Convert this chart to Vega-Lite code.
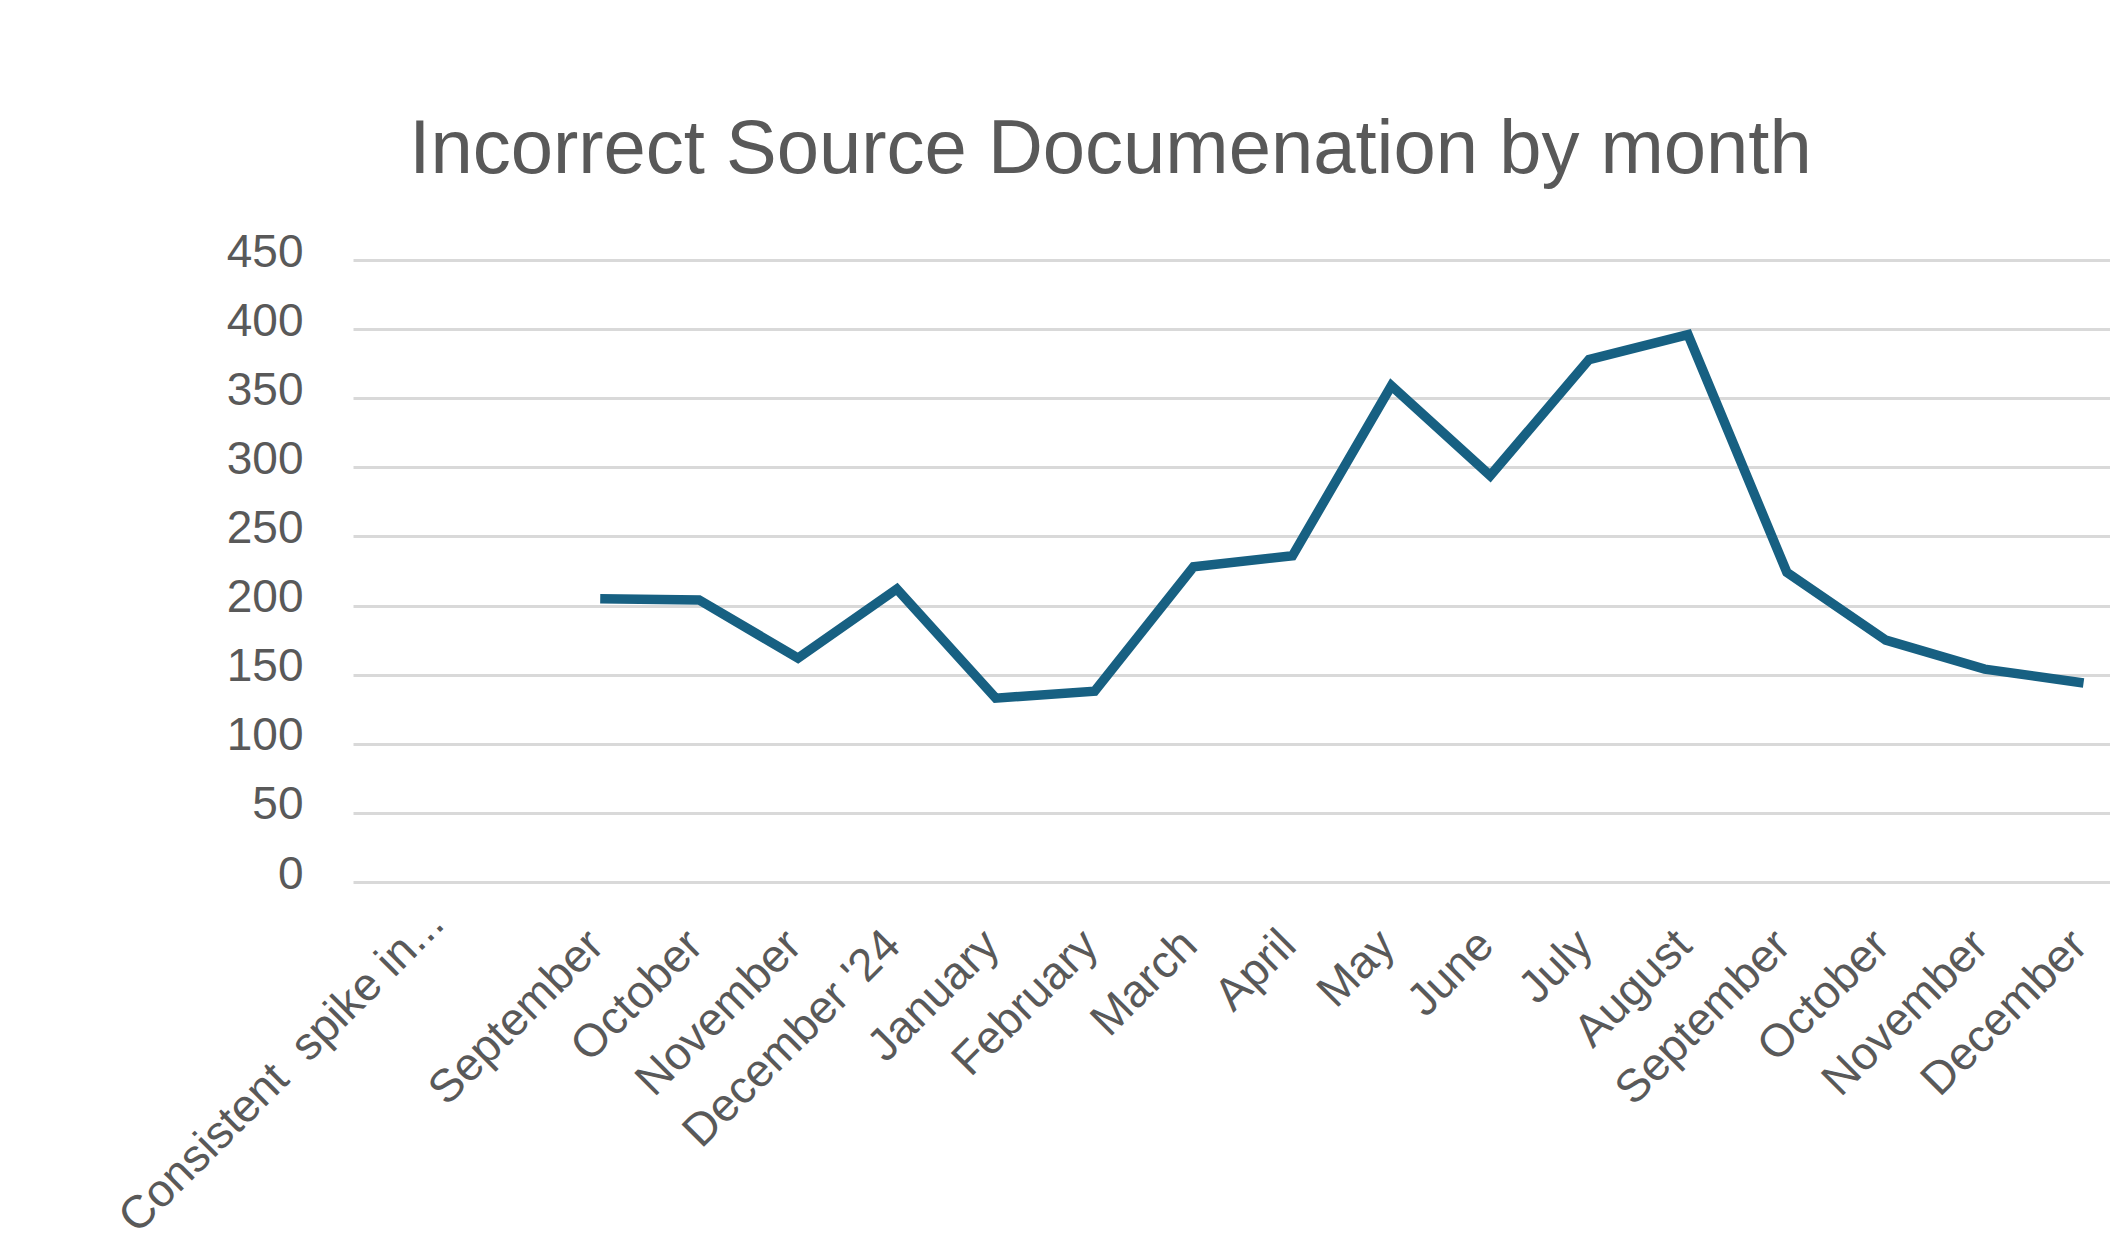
{
  "$schema": "https://vega.github.io/schema/vega-lite/v6.json",
  "autosize": {"type": "none"},
  "padding": {"left": 353, "top": 260, "right": 0, "bottom": 376},
  "width": 1757,
  "height": 622,
  "background": "white",
  "title": {
    "text": "Incorrect Source Documenation by month",
    "font": "Liberation Sans",
    "fontSize": 76,
    "fontWeight": "normal",
    "color": "#595959",
    "anchor": "middle",
    "dx": -121,
    "offset": 40
  },
  "data": {
    "values": [
      {"month": "Consistent\u00a0 spike in...", "count": null},
      {"month": "", "count": null},
      {"month": "September", "count": 205},
      {"month": "October", "count": 204},
      {"month": "November", "count": 162},
      {"month": "December '24", "count": 212},
      {"month": "January", "count": 133},
      {"month": "February", "count": 138},
      {"month": "March", "count": 228},
      {"month": "April", "count": 236},
      {"month": "May", "count": 359},
      {"month": "June", "count": 294},
      {"month": "July", "count": 378},
      {"month": "August", "count": 396},
      {"month": "September ", "count": 224},
      {"month": "October ", "count": 175},
      {"month": "November ", "count": 154},
      {"month": "December ", "count": 144}
    ]
  },
  "mark": {"type": "line", "color": "#176082", "strokeWidth": 9.5, "strokeJoin": "miter"},
  "encoding": {
    "x": {
      "field": "month",
      "type": "nominal",
      "sort": null,
      "scale": {
        "type": "point",
        "padding": 0.5,
        "range": [0, 1780],
        "domain": ["Consistent\u00a0 spike in...", "", "September", "October", "November", "December '24", "January", "February", "March", "April", "May", "June", "July", "August", "September ", "October ", "November ", "December "]
      },
      "axis": {
        "title": null,
        "domain": false,
        "ticks": false,
        "grid": false,
        "labelAngle": -45,
        "labelAlign": "right",
        "labelBaseline": "top",
        "labelPadding": {"condition": {"test": "indexof(datum.value, 'Consistent') === 0", "value": 18}, "value": 40},
        "labelOffset": {"condition": {"test": "indexof(datum.value, 'Consistent') === 0", "value": 18}, "value": -20},
        "labelFont": "Liberation Sans",
        "labelFontSize": 46,
        "labelColor": "#595959",
        "labelOverlap": false,
        "labelLimit": 0
      }
    },
    "y": {
      "field": "count",
      "type": "quantitative",
      "scale": {"domain": [0, 450], "nice": false, "zero": true},
      "axis": {
        "title": null,
        "values": [0, 50, 100, 150, 200, 250, 300, 350, 400, 450],
        "domain": false,
        "ticks": false,
        "grid": true,
        "gridColor": "#d9d9d9",
        "gridWidth": 3,
        "labelPadding": 50,
        "labelOffset": -8,
        "labelFont": "Liberation Sans",
        "labelFontSize": 46,
        "labelColor": "#595959"
      }
    }
  },
  "config": {"view": {"stroke": null}}
}
